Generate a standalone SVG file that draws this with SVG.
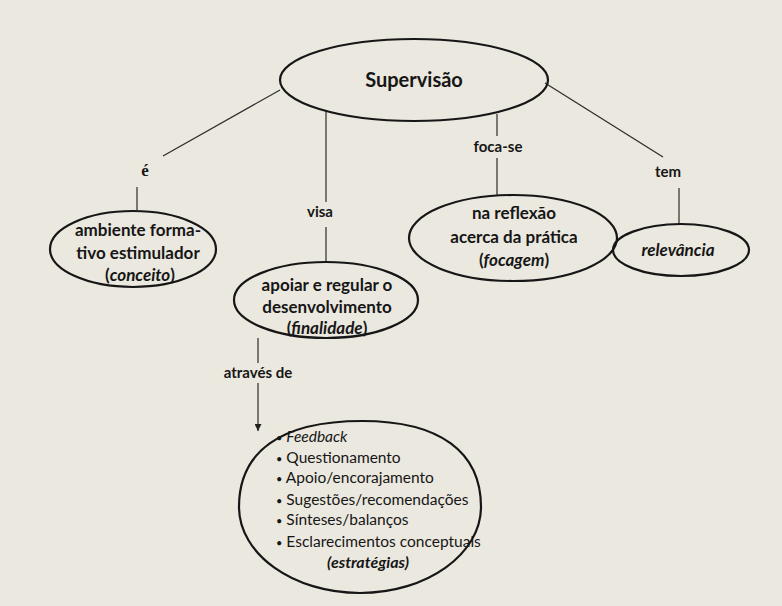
<svg xmlns="http://www.w3.org/2000/svg" width="782" height="606" viewBox="0 0 782 606">
<style>
.bg{fill:#ebe8df}
.node{fill:none;stroke:#161616;stroke-width:2.2}
.conn{stroke:#2a2a2a;stroke-width:1.2;fill:none}
.t{font-family:Lato,"Open Sans","Liberation Sans",sans-serif;fill:#161616;text-anchor:middle}
.b{font-weight:700}
.lbl{font-family:Lato,"Open Sans","Liberation Sans",sans-serif;font-weight:700;font-size:15px;fill:#161616;text-anchor:middle}
.lst{font-family:Lato,"Open Sans","Liberation Sans",sans-serif;font-size:15.5px;fill:#161616}
.dot{font-size:11px}
</style>
<defs>
<marker id="arr" viewBox="0 0 10 10" refX="10" refY="5" markerWidth="7" markerHeight="7" orient="auto" markerUnits="userSpaceOnUse">
<path d="M0,0 L10,5 L0,10 Z" fill="#222"/>
</marker>
</defs>
<rect class="bg" x="0" y="0" width="782" height="606"/>

<g id="connectors">
<line class="conn" x1="280" y1="90" x2="163" y2="156"/>
<line class="conn" x1="137" y1="187" x2="137" y2="210"/>
<text class="lbl" x="145" y="176" style="font-family:'Liberation Serif',serif;font-size:17px">é</text>

<line class="conn" x1="326" y1="111" x2="326" y2="202"/>
<line class="conn" x1="326" y1="227" x2="326" y2="262"/>
<text class="lbl" x="320" y="217">visa</text>

<line class="conn" x1="497" y1="114" x2="497" y2="136"/>
<line class="conn" x1="497" y1="158" x2="497" y2="195"/>
<text class="lbl" x="498" y="152">foca-se</text>

<line class="conn" x1="545" y1="83" x2="663" y2="157"/>
<line class="conn" x1="679" y1="188" x2="679" y2="224"/>
<text class="lbl" x="668" y="177">tem</text>

<line class="conn" x1="258" y1="338" x2="258" y2="363"/>
<line class="conn" x1="258" y1="383" x2="258" y2="431" marker-end="url(#arr)"/>
<text class="lbl" x="258" y="378">através de</text>
</g>

<g id="supervisao">
<ellipse class="node" cx="414" cy="80" rx="134" ry="41"/>
<text class="t b" x="414" y="87" font-size="20">Supervisão</text>
</g>

<g id="ambiente">
<ellipse class="node" cx="133" cy="249" rx="83" ry="38"/>
<text class="t b" font-size="17"><tspan x="138" y="236">ambiente forma-</tspan><tspan x="138" y="259">tivo estimulador</tspan><tspan x="140" y="281">(<tspan font-style="italic">conceito</tspan>)</tspan></text>
</g>

<g id="apoiar">
<ellipse class="node" cx="326" cy="300" rx="92" ry="38"/>
<text class="t b" font-size="17"><tspan x="327" y="291">apoiar e regular o</tspan><tspan x="327" y="313">desenvolvimento</tspan><tspan x="327" y="334">(<tspan font-style="italic">finalidade</tspan>)</tspan></text>
</g>

<g id="reflexao">
<ellipse class="node" cx="513" cy="238" rx="104" ry="43"/>
<text class="t b" font-size="17"><tspan x="514" y="219">na reflexão</tspan><tspan x="514" y="243">acerca da prática</tspan><tspan x="514" y="266">(<tspan font-style="italic">focagem</tspan>)</tspan></text>
</g>

<g id="relevancia">
<ellipse class="node" cx="681" cy="250" rx="68" ry="26"/>
<text class="t b" x="678" y="256" font-size="17" font-style="italic">relevância</text>
</g>

<g id="estrategias">
<path class="node" d="M362,421 C280,421 239,452 239,507 C239,554 293,593 360,593 C427,593 481,554 481,507 C481,452 440,421 362,421 Z"/>
<text class="lst"><tspan x="276" y="442"><tspan class="dot">•</tspan> <tspan font-style="italic">Feedback</tspan></tspan><tspan x="276" y="463"><tspan class="dot">•</tspan> Questionamento</tspan><tspan x="276" y="483"><tspan class="dot">•</tspan> Apoio/encorajamento</tspan><tspan x="276" y="505"><tspan class="dot">•</tspan> Sugestões/recomendações</tspan><tspan x="276" y="525"><tspan class="dot">•</tspan> Sínteses/balanços</tspan><tspan x="276" y="547"><tspan class="dot">•</tspan> Esclarecimentos conceptuais</tspan></text>
<text class="t b" x="368" y="568" font-size="16" font-style="italic">(estratégias)</text>
</g>
</svg>
